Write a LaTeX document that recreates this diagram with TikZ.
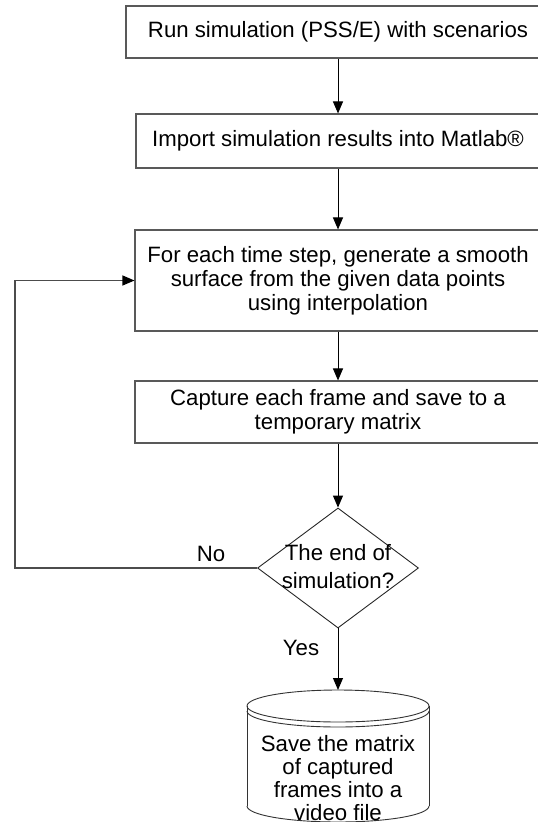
\documentclass[tikz,border=0pt]{standalone}
\usepackage{fontspec}
\setmainfont{Liberation Sans}
\usetikzlibrary{arrows.meta,shapes.geometric}
\begin{document}
\begin{tikzpicture}[x=1pt,y=-1pt,
  txt/.style={font=\fontsize{22.2}{24}\selectfont, align=center, inner sep=0pt},
  procbox/.style={txt, draw=black!65, line width=1.1pt},
  decision/.style={diamond, draw=black!85, line width=0.9pt, inner sep=0pt,
    minimum width=161pt, minimum height=120pt},
  flow/.style={draw=black, line width=1pt, -{Triangle[length=12pt,width=10pt]}},
  loopline/.style={draw=black!70, line width=1.1pt, -{Triangle[length=12pt,width=10pt,color=black]}},
  shapeline/.style={draw=black!80, line width=0.9pt}
]
\clip (0,0) rectangle (538,822);

% process steps (boxes run past the right margin)
\node[procbox, minimum width=424pt, minimum height=52pt] (run) at (338,32)
  {Run simulation (PSS/E) with scenarios};
\node[procbox, minimum width=404pt, minimum height=54pt] (import) at (338,141)
  {Import simulation results into Matlab\textregistered};
\node[procbox, minimum width=406pt, minimum height=101pt] (surf) at (338,280.5)
  {For each time step, generate a smooth\\surface from the given data points\\using interpolation};
\node[procbox, minimum width=406pt, minimum height=62pt] (capture) at (338,412)
  {Capture each frame and save to a\\temporary matrix};

% decision
\node[decision] (dec) at (338,568) {};
\node[txt, font=\fontsize{22.2}{28}\selectfont] (dectext) at (338,567)
  {The end of\\simulation?};

% data store (cylinder)
\coordinate (storetop) at (338,690);
\draw[shapeline] (338,706) ellipse [x radius=91, y radius=16];
\draw[shapeline] (429,711) arc[start angle=0, end angle=180, x radius=91, y radius=16];
\draw[shapeline] (247,706) -- (247,806);
\draw[shapeline] (429,706) -- (429,806);
\draw[shapeline] (429,806) arc[start angle=0, end angle=180, x radius=91, y radius=16];
\node[txt, font=\fontsize{22.2}{23}\selectfont] (store) at (338,778)
  {Save the matrix\\of captured\\frames into a\\video file};

% connectors
\draw[flow] (run) -- (import);
\draw[flow] (import) -- (surf);
\draw[flow] (surf) -- (capture);
\draw[flow] (capture) -- (dec);
\draw[flow] (dec.south) -- (storetop);
\coordinate (loopcorner) at (15,568);
\draw[loopline] (dec.west) -- (loopcorner) |- (surf.west);

% branch labels
\node[txt] (nolabel) at (211,554) {No};
\node[txt] (yeslabel) at (301,648) {Yes};
\end{tikzpicture}
\end{document}
